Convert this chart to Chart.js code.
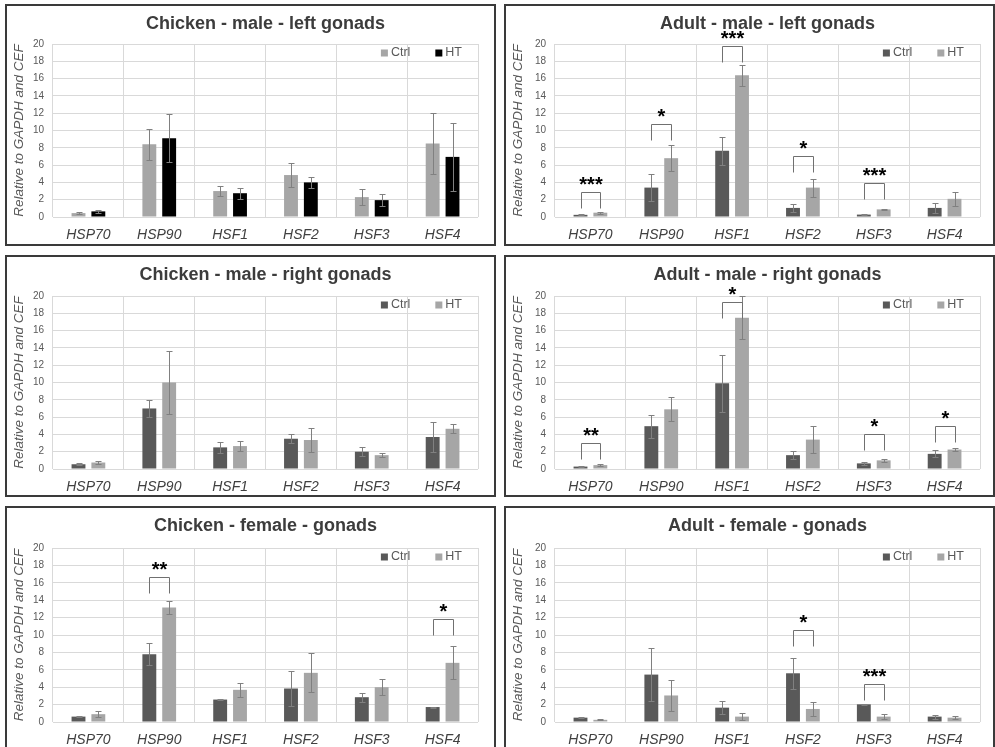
<!DOCTYPE html>
<html><head><meta charset="utf-8">
<script src="https://cdn.jsdelivr.net/npm/chart.js@4.4.0/dist/chart.umd.min.js"></script>
<style>
html,body{margin:0;padding:0;background:#fff;width:995px;height:747px;overflow:hidden;position:relative;}
.panel{position:absolute;box-sizing:border-box;border:2px solid #3a3a3a;background:#fff;}
.panel canvas{display:block;}
</style></head><body>
<div class="panel" style="left:5px;top:4px;width:491px;height:242px"><canvas id="c0" width="487" height="238"></canvas></div>
<div class="panel" style="left:504px;top:4px;width:491px;height:242px"><canvas id="c1" width="487" height="238"></canvas></div>
<div class="panel" style="left:5px;top:255px;width:491px;height:242px"><canvas id="c2" width="487" height="238"></canvas></div>
<div class="panel" style="left:504px;top:255px;width:491px;height:242px"><canvas id="c3" width="487" height="238"></canvas></div>
<div class="panel" style="left:5px;top:506px;width:491px;height:246px"><canvas id="c4" width="487" height="238"></canvas></div>
<div class="panel" style="left:504px;top:506px;width:491px;height:246px"><canvas id="c5" width="487" height="238"></canvas></div>
<script>
// ---------- data ----------
const categories = ['HSP70', 'HSP90', 'HSF1', 'HSF2', 'HSF3', 'HSF4'];
const seriesNames = ['Ctrl', 'HT'];
const yMin = 0, yMax = 20, yStep = 2;
const yAxisTitle = 'Relative to GAPDH and CEF';

const titles = [
  'Chicken - male - left gonads', 'Adult - male - left gonads',
  'Chicken - male - right gonads', 'Adult - male - right gonads',
  'Chicken - female - gonads', 'Adult - female - gonads'
];

// Chicken - male - left gonads
const chickMaleLeftCtrl    = [0.45, 8.4, 3.0, 4.85, 2.3, 8.5];
const chickMaleLeftCtrlErr = [0.15, 1.8, 0.55, 1.4, 0.9, 3.5];
const chickMaleLeftHT      = [0.65, 9.1, 2.75, 4.0, 1.95, 6.95];
const chickMaleLeftHTErr   = [0.2, 2.75, 0.65, 0.65, 0.7, 3.9];
const chickMaleLeftSig     = [];

// Adult - male - left gonads
const adultMaleLeftCtrl    = [0.25, 3.4, 7.65, 1.05, 0.28, 1.05];
const adultMaleLeftCtrlErr = [0.05, 1.55, 1.6, 0.5, 0.06, 0.6];
const adultMaleLeftHT      = [0.5, 6.8, 16.4, 3.4, 0.88, 2.1];
const adultMaleLeftHTErr   = [0.1, 1.5, 1.2, 1.05, 0.1, 0.8];
const adultMaleLeftSig     = [[0, 2.93, '***'], [1, 10.7, '*'], [2, 19.77, '***'], [3, 7.0, '*'], [4, 3.9, '***']];

// Chicken - male - right gonads
const chickMaleRightCtrl    = [0.55, 7.0, 2.5, 3.5, 2.0, 3.7];
const chickMaleRightCtrlErr = [0.1, 0.95, 0.6, 0.5, 0.5, 1.75];
const chickMaleRightHT      = [0.75, 10.0, 2.65, 3.35, 1.6, 4.65];
const chickMaleRightHTErr   = [0.12, 3.6, 0.6, 1.35, 0.2, 0.5];
const chickMaleRightSig     = [];

// Adult - male - right gonads
const adultMaleRightCtrl    = [0.28, 4.95, 9.9, 1.6, 0.65, 1.75];
const adultMaleRightCtrlErr = [0.08, 1.35, 3.3, 0.5, 0.2, 0.4];
const adultMaleRightHT      = [0.45, 6.9, 17.5, 3.4, 1.0, 2.25];
const adultMaleRightHTErr   = [0.1, 1.4, 2.5, 1.6, 0.15, 0.15];
const adultMaleRightSig     = [[0, 2.97, '**'], [2, 19.34, '*'], [4, 4.0, '*'], [5, 5.0, '*']];

// Chicken - female - gonads
const chickFemaleCtrl    = [0.62, 7.8, 2.58, 3.85, 2.85, 1.72];
const chickFemaleCtrlErr = [0.06, 1.3, 0.08, 2.0, 0.5, 0.06];
const chickFemaleHT      = [0.9, 13.15, 3.7, 5.65, 4.0, 6.8];
const chickFemaleHTErr   = [0.35, 0.78, 0.8, 2.25, 0.9, 1.9];
const chickFemaleSig     = [[1, 16.65, '**'], [5, 11.8, '*']];

// Adult - female - gonads
const adultFemaleCtrl    = [0.5, 5.45, 1.65, 5.6, 2.03, 0.62];
const adultFemaleCtrlErr = [0.06, 3.0, 0.75, 1.75, 0.06, 0.22];
const adultFemaleHT      = [0.25, 3.05, 0.62, 1.5, 0.62, 0.5];
const adultFemaleHTErr   = [0.05, 1.75, 0.38, 0.8, 0.25, 0.2];
const adultFemaleSig     = [[3, 10.54, '*'], [4, 4.42, '***']];

// ---------- styles / layout ----------
const FONT = '"Liberation Sans", Arial, sans-serif';
const DARK = '#595959', LIGHT = '#a6a6a6', BLACK = '#000000';

const panels = [
  {ctrl: chickMaleLeftCtrl, ctrlErr: chickMaleLeftCtrlErr, ht: chickMaleLeftHT, htErr: chickMaleLeftHTErr, sig: chickMaleLeftSig, colors: [LIGHT, BLACK]},
  {ctrl: adultMaleLeftCtrl, ctrlErr: adultMaleLeftCtrlErr, ht: adultMaleLeftHT, htErr: adultMaleLeftHTErr, sig: adultMaleLeftSig, colors: [DARK, LIGHT]},
  {ctrl: chickMaleRightCtrl, ctrlErr: chickMaleRightCtrlErr, ht: chickMaleRightHT, htErr: chickMaleRightHTErr, sig: chickMaleRightSig, colors: [DARK, LIGHT]},
  {ctrl: adultMaleRightCtrl, ctrlErr: adultMaleRightCtrlErr, ht: adultMaleRightHT, htErr: adultMaleRightHTErr, sig: adultMaleRightSig, colors: [DARK, LIGHT]},
  {ctrl: chickFemaleCtrl, ctrlErr: chickFemaleCtrlErr, ht: chickFemaleHT, htErr: chickFemaleHTErr, sig: chickFemaleSig, colors: [DARK, LIGHT]},
  {ctrl: adultFemaleCtrl, ctrlErr: adultFemaleCtrlErr, ht: adultFemaleHT, htErr: adultFemaleHTErr, sig: adultFemaleSig, colors: [DARK, LIGHT]}
];
// chart-area boxes inside each 487x238 canvas
const colBox = [{left: 46, right: 471}, {left: 49, right: 474}];
const rowBox = [{top: 38, bottom: 211}, {top: 39, bottom: 212}, {top: 40, bottom: 214}];

const decoPlugin = {
  id: 'deco',
  afterDraw(chart, args, opts) {
    const ctx = chart.ctx, ca = chart.chartArea, ys = chart.scales.y;
    ctx.save();
    // error bars
    chart.data.datasets.forEach((ds, i) => {
      const meta = chart.getDatasetMeta(i);
      meta.data.forEach((bar, j) => {
        const v = ds.data[j], e = ds.errors[j];
        const yt = Math.round(ys.getPixelForValue(v + e)) + 0.5;
        const yb = Math.round(ys.getPixelForValue(Math.max(0, v - e))) + 0.5;
        const x = Math.round(bar.x) + 0.5;
        ctx.strokeStyle = '#808080';
        ctx.lineWidth = 1;
        ctx.beginPath();
        ctx.moveTo(x, yt); ctx.lineTo(x, yb);
        ctx.moveTo(x - 3, yt); ctx.lineTo(x + 3, yt);
        ctx.moveTo(x - 3, yb); ctx.lineTo(x + 3, yb);
        ctx.stroke();
      });
    });
    // significance brackets
    const m0 = chart.getDatasetMeta(0), m1 = chart.getDatasetMeta(1);
    (opts.sig || []).forEach(s => {
      const x0 = Math.round(m0.data[s[0]].x) + 0.5, x1 = Math.round(m1.data[s[0]].x) + 0.5;
      const y = Math.round(ys.getPixelForValue(s[1])) + 0.5;
      ctx.strokeStyle = '#707070';
      ctx.lineWidth = 1;
      ctx.beginPath();
      ctx.moveTo(x0, y + 16); ctx.lineTo(x0, y); ctx.lineTo(x1, y); ctx.lineTo(x1, y + 16);
      ctx.stroke();
      ctx.fillStyle = '#000';
      ctx.font = 'bold 20px ' + FONT;
      ctx.textAlign = 'center';
      ctx.textBaseline = 'alphabetic';
      ctx.fillText(s[2], (x0 + x1) / 2, y - 13 + 0.58 * 20);
    });
    // title
    ctx.fillStyle = '#3c3c3c';
    ctx.font = 'bold 18px ' + FONT;
    ctx.textAlign = 'center';
    ctx.textBaseline = 'middle';
    ctx.fillText(opts.title, (ca.left + ca.right) / 2, 18);
    // legend (inside plot, top right)
    ctx.font = '12.5px ' + FONT;
    ctx.textBaseline = 'middle';
    ctx.textAlign = 'left';
    const ly = ca.top + 9;
    let right = ca.right - 16;
    const ds = chart.data.datasets;
    for (let i = ds.length - 1; i >= 0; i--) {
      const w = ctx.measureText(ds[i].label).width;
      const tx = right - w;
      ctx.fillStyle = DARK;
      ctx.fillText(ds[i].label, tx, ly);
      ctx.fillStyle = ds[i].backgroundColor;
      ctx.fillRect(tx - 10, ly - 3.5, 7, 7);
      right = tx - 10 - 25;
    }
    ctx.restore();
  }
};

panels.forEach((p, k) => {
  const col = colBox[k % 2], row = rowBox[Math.floor(k / 2)];
  const W = 487, H = 238;
  new Chart(document.getElementById('c' + k), {
    type: 'bar',
    data: {
      labels: categories,
      datasets: [
        {label: seriesNames[0], data: p.ctrl, errors: p.ctrlErr, backgroundColor: p.colors[0], categoryPercentage: 0.56, barPercentage: 0.7},
        {label: seriesNames[1], data: p.ht, errors: p.htErr, backgroundColor: p.colors[1], categoryPercentage: 0.56, barPercentage: 0.7}
      ]
    },
    options: {
      responsive: false,
      animation: false,
      events: [],
      layout: {padding: {top: row.top, right: W - col.right, bottom: 0, left: 0}},
      plugins: {
        legend: {display: false},
        tooltip: {enabled: false},
        title: {display: false},
        deco: {title: titles[k], sig: p.sig}
      },
      scales: {
        x: {
          grid: {color: '#d9d9d9', lineWidth: 1, drawTicks: false, offset: true},
          border: {display: false},
          ticks: {color: '#404040', font: {family: FONT, size: 14, style: 'italic'}, padding: 10, maxRotation: 0},
          afterFit(scale) { scale.height = H - row.bottom; }
        },
        y: {
          min: yMin, max: yMax,
          grid: {color: '#d9d9d9', lineWidth: 1, drawTicks: false},
          border: {display: false},
          ticks: {stepSize: yStep, color: DARK, font: {family: FONT, size: 10}, padding: 9},
          title: {display: true, text: yAxisTitle, color: DARK, font: {family: FONT, size: 13.5, style: 'italic'}, padding: {top: 4, bottom: 0}},
          afterFit(scale) { scale.width = col.left; }
        }
      }
    },
    plugins: [decoPlugin]
  });
});
</script>
</body></html>
